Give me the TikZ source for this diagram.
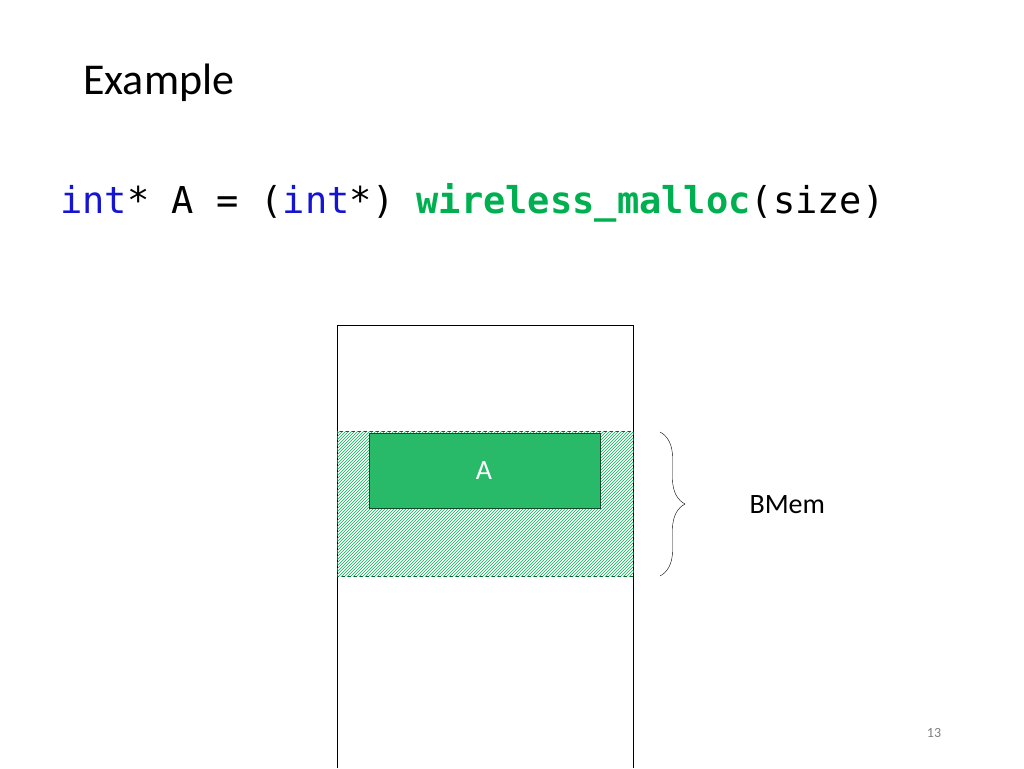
\documentclass[tikz,border=0pt]{standalone}
\usepackage{fontspec}
\setmainfont{Carlito}
\setmonofont{DejaVu Sans Mono}
\usetikzlibrary{patterns,decorations.pathreplacing}
\definecolor{kw}{RGB}{20,20,210}
\definecolor{fn}{RGB}{0,176,80}
\definecolor{gbox}{RGB}{40,185,105}
\begin{document}
\begin{tikzpicture}[x=1pt,y=-1pt,
  txt/.style={inner sep=0pt,anchor=base west}]
\useasboundingbox (0,0) rectangle (1024,768);
\node[txt,font=\fontsize{44}{50}\selectfont] (title) at (83,94) {Example};
\node[txt,font=\ttfamily\fontsize{37}{44}\selectfont] (code) at (60,213)
 {\textcolor{kw}{int}* A = (\textcolor{kw}{int}*) \textcolor{fn}{\bfseries wireless\_malloc}(size)};
\draw[thick] (337,768) -- (337,325) -- (633,325) -- (633,768);
\path[pattern=north east lines,pattern color=fn] (337,431) rectangle (633,576);
\draw[dashed,draw=fn!60!black] (337,431) rectangle (633,576);
\node[draw=black!60!gbox,fill=gbox,minimum width=231pt,minimum height=75pt,inner sep=0pt,anchor=north west,
  text=white,font=\fontsize{28}{32}\selectfont] (A) at (369,433) {};
\node[text=white,font=\fontsize{28}{32}\selectfont] (Alab) at (484,471) {A};
\draw[decorate,decoration={brace,amplitude=25pt}] (660,432) -- (660,576) coordinate[midway] (m);
\node[font=\fontsize{28}{32}\selectfont,anchor=west] (bmem) at (746,505) {BMem};
\node[font=\fontsize{14}{16}\selectfont,text=gray] (pg) at (934,733) {13};
\end{tikzpicture}
\end{document}
